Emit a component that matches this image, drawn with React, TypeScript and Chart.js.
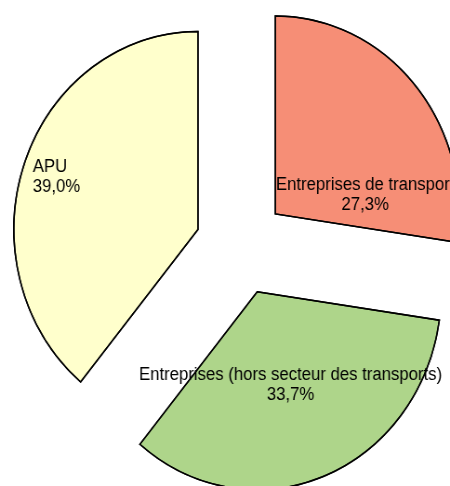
import React, { useEffect, useRef } from "react";
import { Chart, registerables } from "chart.js";

Chart.register(...registerables);

const categories = [
  "Entreprises de transport",
  "Entreprises (hors secteur des transports)",
  "APU",
];
const shares = [27.3, 33.7, 39.0];
const colors = ["#F68E76", "#AED58A", "#FFFFCC"];

const EXPLODE = 49;
const RADIUS = 198;
const FONT = '18px "Liberation Sans", Arial, sans-serif';
const LINE_GAP = 20;

// label anchors relative to each exploded slice apex, in units of the radius
const LABEL_PLACE: { dx: number; dy: number; align: CanvasTextAlign }[] = [
  { dx: 0.488, dy: -0.121, align: "center" },
  { dx: 0.181, dy: 0.446, align: "center" },
  { dx: -0.897, dy: -0.289, align: "left" },
];

const fmt = (v: number) => v.toFixed(1).replace(".", ",") + "%";

const apexOf = (el: any) => {
  const mid = (el.startAngle + el.endAngle) / 2;
  return { x: el.x + Math.cos(mid) * EXPLODE, y: el.y + Math.sin(mid) * EXPLODE };
};

const explodePlugin = {
  id: "explodeLabels",
  beforeDatasetsDraw(chart: any) {
    chart.getDatasetMeta(0).data.forEach((el: any) => {
      if (el.$wrapped) return;
      const orig = el.draw;
      el.draw = function (ctx: CanvasRenderingContext2D, area: any) {
        const mid = (this.startAngle + this.endAngle) / 2;
        ctx.save();
        ctx.translate(Math.cos(mid) * EXPLODE, Math.sin(mid) * EXPLODE);
        orig.call(this, ctx, area);
        ctx.restore();
      };
      el.$wrapped = true;
    });
  },
  afterDatasetsDraw(chart: any) {
    const ctx: CanvasRenderingContext2D = chart.ctx;
    const meta = chart.getDatasetMeta(0);
    const labels = chart.data.labels as string[];
    const values = chart.data.datasets[0].data as number[];
    meta.data.forEach((el: any, i: number) => {
      const a = apexOf(el);
      const p = LABEL_PLACE[i];
      const r = el.outerRadius;
      const x = a.x + p.dx * r;
      const y = a.y + p.dy * r;
      ctx.save();
      ctx.font = FONT;
      ctx.fillStyle = "#000";
      ctx.textAlign = p.align;
      ctx.textBaseline = "alphabetic";
      ctx.fillText(labels[i], x, y);
      ctx.fillText(fmt(values[i]), x, y + LINE_GAP);
      ctx.restore();
    });
    // slice outlines drawn over the labels
    meta.data.forEach((el: any) => {
      const a = apexOf(el);
      ctx.save();
      ctx.beginPath();
      ctx.moveTo(a.x, a.y);
      ctx.arc(a.x, a.y, el.outerRadius, el.startAngle, el.endAngle);
      ctx.closePath();
      ctx.lineWidth = 1.5;
      ctx.strokeStyle = "#000";
      ctx.lineJoin = "miter";
      ctx.stroke();
      ctx.restore();
    });
  },
};

export default function App() {
  const ref = useRef<HTMLCanvasElement | null>(null);
  useEffect(() => {
    if (!ref.current) return;
    const chart = new Chart(ref.current, {
      type: "pie",
      data: {
        labels: categories,
        datasets: [
          {
            data: shares,
            backgroundColor: colors,
            borderColor: "#000",
            borderWidth: 1.5,
            borderJoinStyle: "miter",
            clip: false,
          } as any,
        ],
      },
      options: {
        animation: false,
        responsive: false,
        devicePixelRatio: 1,
        radius: RADIUS,
        rotation: 0,
        layout: { padding: { left: 34, right: 0, top: 6, bottom: 0 } },
        plugins: {
          legend: { display: false },
          tooltip: { enabled: false },
        },
        events: [],
      } as any,
      plugins: [explodePlugin],
    });
    return () => chart.destroy();
  }, []);
  return (
    <canvas
      ref={ref}
      width={484}
      height={486}
      style={{
        position: "absolute",
        left: 0,
        top: 0,
        width: "450px",
        height: "486px",
        display: "block",
      }}
    />
  );
}
